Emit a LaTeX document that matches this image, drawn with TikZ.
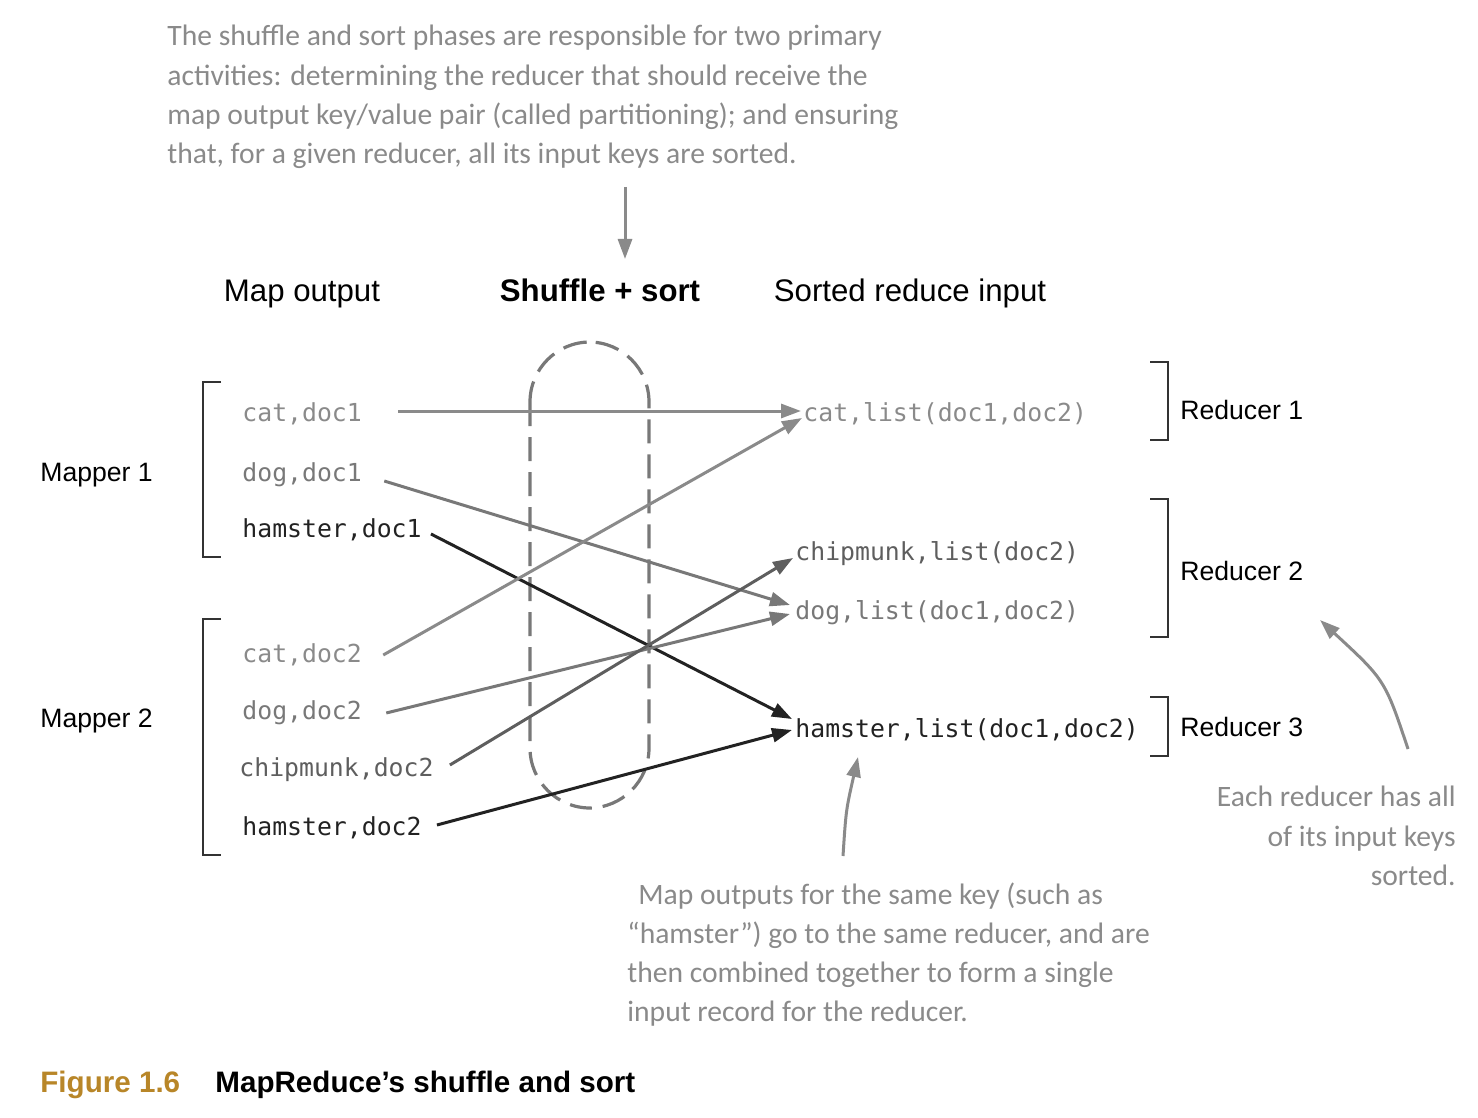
\documentclass[tikz,border=0pt]{standalone}
\usepackage{fontspec}
\setmainfont{Liberation Sans}
\newfontfamily\monof{DejaVu Sans Mono}
\newfontfamily\handf{Carlito}
\usetikzlibrary{arrows.meta,calc}
\definecolor{gold}{RGB}{184,134,40}
\definecolor{gA}{HTML}{8A8A8A}
\definecolor{gB}{HTML}{787878}
\definecolor{gC}{HTML}{5E5E5E}
\definecolor{gD}{HTML}{222222}
\definecolor{note}{HTML}{8A8A8A}
\definecolor{brk}{HTML}{333333}
\begin{document}
\begin{tikzpicture}[x=0.5pt,y=-0.5pt,
  mono/.style={font=\monof\fontsize{12.4}{14}\selectfont,inner sep=0pt,anchor=base west},
  lab/.style={font=\fontsize{13.3}{16}\selectfont,inner sep=0pt,anchor=base west},
  head/.style={font=\fontsize{15.6}{18}\selectfont,inner sep=0pt,anchor=base},
  hand/.style={font=\handf\fontsize{14.8}{19.6}\selectfont,text=note,inner sep=0pt},
  conn/.style={line width=1.5pt,-{Triangle[length=10pt,width=7pt]}},
  brack/.style={line width=1pt,draw=brk},
  pill/.style={line width=1.6pt,draw=gB,dash pattern=on 12pt off 5.5pt,rounded corners=30pt},
  notearrow/.style={line width=1.5pt,draw=note,-{Triangle[length=10pt,width=7pt]}}
]
\useasboundingbox (0,0) rectangle (1478,1118);

% annotations
\node[hand,anchor=north west,align=left] (topnote) at (167,25)
 {The shuffle and sort phases are responsible for two primary\\
  activities: determining the reducer that should receive the\\
  map output key/value pair (called partitioning); and ensuring\\
  that, for a given reducer, all its input keys are sorted.};
\coordinate (ta1) at (625,187);
\coordinate (ta2) at (625,259);
\draw[notearrow] (ta1) -- (ta2);

% headings
\node[head] (hmap) at (302,302) {Map output};
\node[head,font=\bfseries\fontsize{15.6}{18}\selectfont] (hshuf) at (600,302) {Shuffle + sort};
\node[head] (hsort) at (910,302) {Sorted reduce input};

% shuffle pill
\draw[pill] (530,342) rectangle (649,808);

% mapper labels and brackets
\node[lab] (m1) at (40,481) {Mapper 1};
\node[lab] (m2) at (40,727) {Mapper 2};
\draw[brack] (221,382) -- (203,382) -- (203,557) -- (221,557);
\draw[brack] (221,619) -- (203,619) -- (203,855) -- (221,855);

% map outputs
\node[mono,text=gA] (c1) at (242,421) {cat,doc1};
\node[mono,text=gB] (d1) at (242,481) {dog,doc1};
\node[mono,text=gD] (h1) at (242,537) {hamster,doc1};
\node[mono,text=gA] (c2) at (242,662) {cat,doc2};
\node[mono,text=gB] (d2) at (242,719) {dog,doc2};
\node[mono,text=gC] (k2) at (239,776) {chipmunk,doc2};
\node[mono,text=gD] (h2) at (242,835) {hamster,doc2};

% reduce inputs
\node[mono,text=gA] (rc) at (803,421) {cat,list(doc1,doc2)};
\node[mono,text=gC] (rk) at (795,560) {chipmunk,list(doc2)};
\node[mono,text=gB] (rd) at (795,619) {dog,list(doc1,doc2)};
\node[mono,text=gD] (rh) at (795,737) {hamster,list(doc1,doc2)};

% reducer brackets and labels
\draw[brack] (1150,362) -- (1168,362) -- (1168,440) -- (1150,440);
\draw[brack] (1150,499) -- (1168,499) -- (1168,637) -- (1150,637);
\draw[brack] (1150,697) -- (1168,697) -- (1168,756) -- (1150,756);
\node[lab] (red1) at (1180,419) {Reducer 1};
\node[lab] (red2) at (1180,580) {Reducer 2};
\node[lab] (red3) at (1180,736) {Reducer 3};

% connectors
\draw[conn,draw=gA,fill=gA] ($(c1.base east)+(36,-10)$) -- ($(rc.base west)+(-2,-10)$);
\draw[conn,draw=gB,fill=gB] ($(d1.base east)+(22,0)$) -- ($(rd.base west)+(-5,-14)$);
\draw[conn,draw=gD,fill=gD] ($(h1.base east)+(9,-3)$) -- ($(rh.base west)+(-3,-18)$);
\draw[conn,draw=gA,fill=gA] ($(c2.base east)+(21,-7)$) -- ($(rc.base west)+(-1,-3)$);
\draw[conn,draw=gB,fill=gB] ($(d2.base east)+(24,-6)$) -- ($(rd.base west)+(-5,-5)$);
\draw[conn,draw=gC,fill=gC] ($(k2.base east)+(16,-11)$) -- ($(rk.base west)+(-2,-2)$);
\draw[conn,draw=gD,fill=gD] ($(h2.base east)+(15,-10)$) -- ($(rh.base west)+(-3,-7)$);

% bottom annotation
\coordinate (ba1) at (843,856);
\coordinate (ba2) at (858,757);
\draw[notearrow] (ba1) .. controls (846,810) .. (ba2);
\node[hand,anchor=north west,align=left] (botnote) at (627,882)
 {\hspace*{5.5pt}Map outputs for the same key (such as\\
  “hamster”) go to the same reducer, and are\\
  then combined together to form a single\\
  input record for the reducer.};

% right annotation
\coordinate (ra1) at (1408,749);
\coordinate (ra2) at (1320,620);
\draw[notearrow] (ra1) .. controls (1385,680) .. (ra2);
\node[hand,anchor=north east,align=right] (rnote) at (1456,786)
 {Each reducer has all\\ of its input keys\\ sorted.};

% caption
\node[inner sep=0pt,anchor=base west,font=\bfseries\fontsize{14.8}{18}\selectfont,text=gold] (fig) at (40,1092) {Figure 1.6};
\node[inner sep=0pt,anchor=base west,font=\bfseries\fontsize{14.8}{18}\selectfont] (cap) at (215,1092) {MapReduce’s shuffle and sort};
\end{tikzpicture}
\end{document}
